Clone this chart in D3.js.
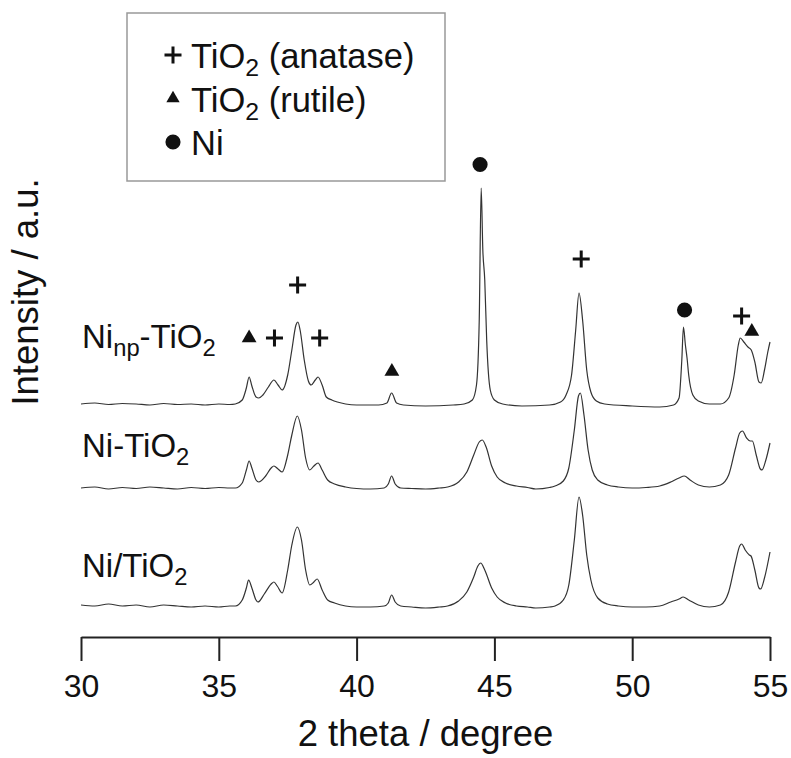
<!DOCTYPE html>
<html>
<head>
<meta charset="utf-8">
<script src="https://cdn.jsdelivr.net/npm/d3@7"></script>
<style>
  html, body { margin: 0; padding: 0; background: #fff; }
  svg { display: block; font-family: "Liberation Sans", Arial, sans-serif; }
</style>
</head>
<body>
<svg id="chart" width="791" height="758"></svg>
<script>
// XRD patterns, 2θ in degrees vs. intensity (counts, stacked with offsets)

// Ni/TiO2
const twoThetaNiTiO2 = [30.0,30.5,31.0,31.5,32.0,32.5,33.0,33.5,34.0,34.5,35.0,35.4,35.6,35.85,36.0,36.08,36.2,36.35,36.42,36.65,36.9,37.0,37.12,37.3,37.5,37.65,37.85,38.0,38.15,38.3,38.45,38.57,38.75,38.95,39.2,39.6,40.0,40.5,41.0,41.15,41.27,41.4,41.6,42.0,42.5,43.0,43.3,43.7,44.0,44.25,44.4,44.5,44.65,44.9,45.1,45.4,45.8,46.2,46.5,47.0,47.2,47.5,47.7,47.9,48.07,48.2,48.35,48.5,48.75,49.1,49.5,50.0,50.5,51.0,51.4,51.7,51.85,52.05,52.4,52.8,53.2,53.5,53.75,53.9,53.97,54.1,54.25,54.31,54.45,54.6,54.66,54.8,55.0];
const countsNiTiO2 = [640,620,660,620,640,600,640,620,600,620,600,620,620,740,980,1140,980,740,700,860,1060,1100,1020,880,1340,1840,2200,1940,1340,1040,1100,1160,940,740,680,620,600,600,620,680,840,700,620,600,580,600,620,720,900,1200,1420,1480,1340,980,800,680,620,600,580,600,620,740,1040,1940,2800,2440,1640,1140,780,660,620,600,600,620,700,760,800,740,640,600,640,900,1500,1820,1860,1740,1640,1620,1340,980,960,1180,1700];

// Ni-TiO2
const twoThetaNiDashTiO2 = [30.0,30.5,31.0,31.5,32.0,32.5,33.0,33.5,34.0,34.5,35.0,35.4,35.6,35.85,36.0,36.1,36.2,36.35,36.45,36.7,36.9,37.0,37.15,37.3,37.5,37.65,37.85,38.0,38.15,38.3,38.45,38.6,38.75,38.95,39.2,39.6,40.0,40.5,41.0,41.15,41.27,41.4,41.6,42.0,42.5,43.0,43.3,43.7,44.0,44.25,44.45,44.56,44.7,44.9,45.1,45.4,45.8,46.2,46.5,47.0,47.2,47.5,47.7,47.9,48.05,48.12,48.25,48.4,48.55,48.75,49.1,49.5,50.0,50.5,51.0,51.4,51.7,51.89,52.1,52.4,52.8,53.2,53.5,53.75,53.9,54.0,54.15,54.28,54.36,54.5,54.65,54.71,54.85,55.0];
const countsNiDashTiO2 = [630,650,610,640,620,650,630,610,640,620,640,630,630,730,990,1170,1030,790,750,870,1030,1070,1010,950,1290,1690,2070,1790,1230,990,1070,1130,990,790,710,650,620,610,630,710,870,710,630,620,610,630,650,750,950,1290,1550,1590,1450,1070,850,730,670,640,610,640,670,770,1030,1790,2470,2530,2090,1390,990,790,690,650,630,640,670,750,830,870,790,690,650,690,890,1430,1730,1770,1630,1570,1570,1290,1010,990,1190,1530];

// Ni(np)-TiO2
const twoThetaNiNpTiO2 = [30.0,30.5,31.0,31.5,32.0,32.5,33.0,33.5,34.0,34.5,35.0,35.4,35.6,35.85,36.0,36.1,36.2,36.35,36.45,36.6,36.8,37.0,37.15,37.3,37.5,37.65,37.8,37.87,37.95,38.1,38.25,38.35,38.5,38.6,38.75,38.9,39.1,39.3,39.6,40.0,40.8,41.1,41.27,41.45,41.7,42.5,43.5,43.9,44.2,44.35,44.45,44.52,44.58,44.65,44.72,44.85,45.0,45.3,46.0,47.0,47.4,47.6,47.8,47.95,48.07,48.2,48.35,48.5,48.7,49.0,50.0,51.0,51.5,51.7,51.8,51.86,51.93,51.99,52.05,52.2,52.4,52.8,53.2,53.5,53.7,53.85,53.92,54.05,54.2,54.32,54.45,54.6,54.68,54.8,54.92,55.0];
const countsNiNpTiO2 = [660,680,650,670,660,640,670,650,660,640,660,650,660,740,980,1200,1020,800,780,840,1000,1140,1040,940,1240,1740,2240,2300,2140,1540,1120,1040,1140,1200,1040,800,740,700,660,640,640,680,880,680,640,620,640,660,740,1040,2340,4980,3740,3140,1940,940,740,660,620,640,700,840,1240,2140,2880,2340,1340,900,720,660,620,600,640,780,1540,2200,1840,1580,1240,840,720,660,660,780,1240,1840,1980,1900,1800,1740,1500,1100,1080,1340,1700,1900];

// vertical stacking offsets (counts), bottom to top
const stackOffsets = [0, 2350, 4000];

// sample names, split into [text, subscript?] runs, bottom to top
const sampleLabels = [
  [["Ni/TiO", false], ["2", true]],
  [["Ni-TiO", false], ["2", true]],
  [["Ni", false], ["np", true], ["-TiO", false], ["2", true]]
];
// baseline intensity of each sample label, counts
const sampleLabelLevels = [1200, 3600, 5780];

// phase assignments above the top pattern: kind, 2θ, counts
const phaseKinds = ["rutile", "anatase", "anatase", "anatase", "rutile", "Ni", "anatase", "Ni", "anatase", "rutile"];
const phaseTwoTheta = [36.1, 37.02, 37.86, 38.66, 41.28, 44.48, 48.15, 51.9, 53.97, 54.34];
const phaseLevels = [5980, 5980, 7040, 5980, 5310, 9450, 7560, 6540, 6420, 6110];

// legend
const legendKinds = ["anatase", "rutile", "Ni"];
const legendLabels = [
  [["TiO", false], ["2", true], [" (anatase)", false]],
  [["TiO", false], ["2", true], [" (rutile)", false]],
  [["Ni", false]]
];

const xTicks = [30, 35, 40, 45, 50, 55];

const series = [
  { x: twoThetaNiTiO2, y: countsNiTiO2 },
  { x: twoThetaNiDashTiO2, y: countsNiDashTiO2 },
  { x: twoThetaNiNpTiO2, y: countsNiNpTiO2 }
];

const svg = d3.select("#chart");
const ink = "#111";

const x = d3.scaleLinear().domain([30, 55]).range([81, 770]);
const y = d3.scaleLinear().domain([0, 10000]).range([637, 137]);

// patterns
const line = d3.line()
  .x(d => x(d[0]))
  .y(d => y(d[1]))
  .curve(d3.curveMonotoneX);

series.forEach((s, i) => {
  const pts = s.x.map((t, k) => [t, s.y[k] + stackOffsets[i]]);
  svg.append("path")
    .datum(pts)
    .attr("fill", "none")
    .attr("stroke", "#333")
    .attr("stroke-width", 1.2)
    .attr("stroke-linejoin", "round")
    .attr("d", line);
});

// text with subscripts
function richText(sel, runs, size) {
  const subSize = size * 0.72;
  const subShift = size * 0.24;
  let shifted = false;
  runs.forEach(([txt, sub]) => {
    const t = sel.append("tspan").text(txt);
    if (sub) {
      t.attr("font-size", subSize);
      if (!shifted) { t.attr("dy", subShift); shifted = true; }
    } else if (shifted) {
      t.attr("dy", -subShift); shifted = false;
    }
  });
}

sampleLabels.forEach((runs, i) => {
  const t = svg.append("text")
    .attr("x", 82)
    .attr("y", y(sampleLabelLevels[i]))
    .attr("font-size", 33)
    .attr("fill", ink);
  richText(t, runs, 33);
});

// phase markers
function drawMarker(g, kind, scale) {
  if (kind === "anatase") {
    const h = 8.5 * scale;
    g.append("path")
      .attr("d", `M${-h},0H${h}M0,${-h}V${h}`)
      .attr("stroke", ink).attr("stroke-width", 3).attr("fill", "none");
  } else if (kind === "rutile") {
    g.append("path")
      .attr("d", d3.symbol(d3.symbolTriangle, 95 * scale * scale)())
      .attr("fill", ink);
  } else {
    g.append("path")
      .attr("d", d3.symbol(d3.symbolCircle, 180 * scale * scale)())
      .attr("fill", ink);
  }
}

phaseKinds.forEach((k, i) => {
  const g = svg.append("g")
    .attr("transform", `translate(${x(phaseTwoTheta[i])},${y(phaseLevels[i])})`);
  drawMarker(g, k, 1);
});

// legend
const legend = svg.append("g");
legend.append("rect")
  .attr("x", 127).attr("y", 13)
  .attr("width", 318).attr("height", 168)
  .attr("fill", "#fff")
  .attr("stroke", "#999").attr("stroke-width", 1.5);

legendKinds.forEach((k, i) => {
  const base = 68 + i * 43.5;
  const g = legend.append("g")
    .attr("transform", `translate(173,${base - 13})`);
  drawMarker(g, k, i === 1 ? 0.9 : 1);
  const t = legend.append("text")
    .attr("x", 191).attr("y", base)
    .attr("font-size", 34.5)
    .attr("fill", ink);
  richText(t, legendLabels[i], 34.5);
});

// x axis
const axis = d3.axisBottom(x)
  .tickValues(xTicks)
  .tickFormat(d3.format("d"))
  .tickSize(24)
  .tickSizeOuter(0)
  .tickPadding(13);

const ax = svg.append("g")
  .attr("transform", `translate(0,${y(0)})`)
  .call(axis);
ax.select(".domain").attr("stroke", "#222").attr("stroke-width", 2);
ax.selectAll(".tick line").attr("stroke", "#222").attr("stroke-width", 2);
ax.selectAll(".tick text")
  .attr("font-size", 32)
  .attr("font-family", "Liberation Sans, Arial, sans-serif")
  .attr("fill", ink);

// axis titles
svg.append("text")
  .attr("x", (x(30) + x(55)) / 2)
  .attr("y", 746)
  .attr("text-anchor", "middle")
  .attr("font-size", 36.5)
  .attr("fill", ink)
  .text("2 theta / degree");

svg.append("text")
  .attr("transform", "translate(38,292) rotate(-90)")
  .attr("text-anchor", "middle")
  .attr("font-size", 36.5)
  .attr("fill", ink)
  .text("Intensity / a.u.");
</script>
</body>
</html>
